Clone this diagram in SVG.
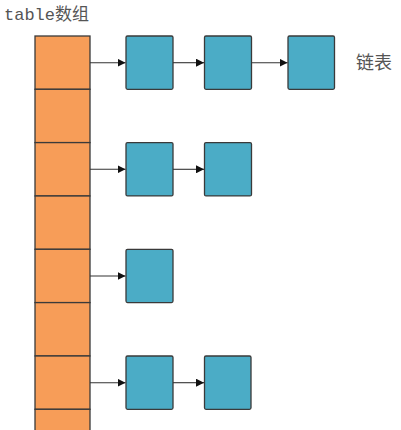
<svg xmlns="http://www.w3.org/2000/svg" width="401" height="430" viewBox="0 0 401 430">
<style>
.cell{fill:#F79D58;stroke:#3a3a3a;stroke-width:1.3}
.node{fill:#4BACC6;stroke:#3a3a3a;stroke-width:1.3}
.conn{stroke:#333;stroke-width:1.1;fill:none;marker-end:url(#arr)}
.lbl{fill:#555;font-family:"Liberation Mono","Noto Sans CJK SC",monospace;font-size:17px}
.lbl2{fill:#555;font-family:"Noto Sans CJK SC",sans-serif;font-size:18px}
</style>
<defs>
<marker id="arr" viewBox="0 0 10 10" refX="10" refY="5" markerWidth="8" markerHeight="8" markerUnits="userSpaceOnUse" orient="auto">
<path d="M0,0 L10,5 L0,10 z" fill="#111"/>
</marker>
</defs>
<rect width="401" height="430" fill="#fff"/>
<text class="lbl" x="4" y="20">table数组</text>
<text class="lbl2" x="356" y="69">链表</text>
<g id="array">
<rect class="cell" x="35" y="36" width="55" height="53.3"/>
<rect class="cell" x="35" y="89.3" width="55" height="53.3"/>
<rect class="cell" x="35" y="142.6" width="55" height="53.3"/>
<rect class="cell" x="35" y="196" width="55" height="53.3"/>
<rect class="cell" x="35" y="249.3" width="55" height="53.3"/>
<rect class="cell" x="35" y="302.6" width="55" height="53.3"/>
<rect class="cell" x="35" y="356" width="55" height="53.3"/>
<rect class="cell" x="35" y="409.3" width="55" height="53.3"/>
</g>
<g id="n00"><rect class="node" x="126" y="36" width="47" height="53.3" rx="1.5"/></g>
<g id="n01"><rect class="node" x="204.5" y="36" width="47" height="53.3" rx="1.5"/></g>
<g id="n02"><rect class="node" x="288" y="36" width="46.5" height="53.3" rx="1.5"/></g>
<g id="n10"><rect class="node" x="126" y="142.6" width="47" height="53.3" rx="1.5"/></g>
<g id="n11"><rect class="node" x="204.5" y="142.6" width="47" height="53.3" rx="1.5"/></g>
<g id="n20"><rect class="node" x="126" y="249.3" width="47" height="53.3" rx="1.5"/></g>
<g id="n30"><rect class="node" x="126" y="356" width="47" height="53.3" rx="1.5"/></g>
<g id="n31"><rect class="node" x="204.5" y="356" width="46.5" height="53.3" rx="1.5"/></g>
<g id="connectors">
<line class="conn" x1="90" y1="62.7" x2="125.5" y2="62.7"/>
<line class="conn" x1="173" y1="62.7" x2="204" y2="62.7"/>
<line class="conn" x1="251.5" y1="62.7" x2="287.5" y2="62.7"/>
<line class="conn" x1="90" y1="169.3" x2="125.5" y2="169.3"/>
<line class="conn" x1="173" y1="169.3" x2="204" y2="169.3"/>
<line class="conn" x1="90" y1="276" x2="125.5" y2="276"/>
<line class="conn" x1="90" y1="382.7" x2="125.5" y2="382.7"/>
<line class="conn" x1="173" y1="382.7" x2="204" y2="382.7"/>
</g>
</svg>
